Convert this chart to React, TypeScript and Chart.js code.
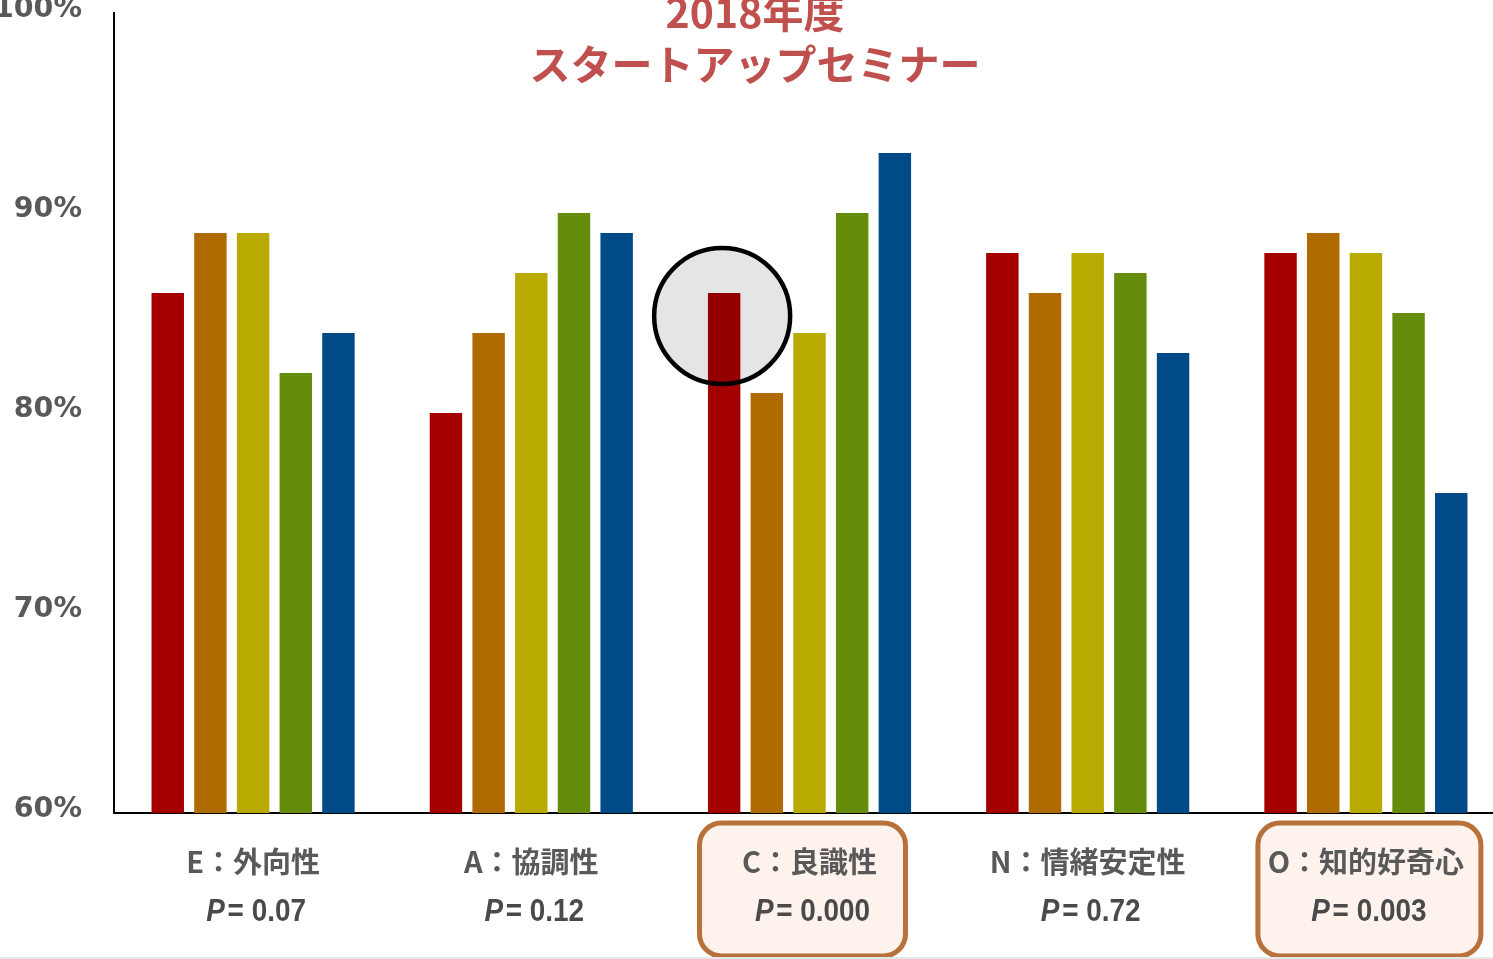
import React, { useEffect, useRef } from "react";
import { Chart, registerables } from "chart.js";

Chart.register(...registerables);

// ---- data ----
const categories = ["E：外向性", "A：協調性", "C：良識性", "N：情緒安定性", "O：知的好奇心"];
const pValues = ["0.07", "0.12", "0.000", "0.72", "0.003"];
const highlighted = [false, false, true, false, true];
const seriesNames = ["群1", "群2", "群3", "群4", "群5"];
const series1 = [86, 80, 86, 88, 88];
const series2 = [89, 84, 81, 86, 89];
const series3 = [89, 87, 84, 88, 88];
const series4 = [82, 90, 90, 87, 85];
const series5 = [84, 89, 93, 83, 76];
const yMin = 60;
const yMax = 100;
const yStep = 10;
const titleLines = ["2018年度", "スタートアップセミナー"];
const circledCategory = 2;
const circleValue = 84.85;

// ---- styles ----
const seriesColors = ["#A50000", "#AF6B00", "#B8AA00", "#658C0B", "#004A87"];
const GRAY = "#595959";
const CJK = "'Noto Sans CJK JP', 'Noto Sans', sans-serif";
const SANS = "'Liberation Sans', Arial, sans-serif";

const boxOffsets: Record<number, [number, number]> = {
  2: [-110, 96],
  4: [-108, 115],
};

const overlayPlugin = {
  id: "overlay",
  afterDatasetsDraw(chart: any) {
    const ctx = chart.ctx as CanvasRenderingContext2D;
    const bar = chart.getDatasetMeta(0).data[circledCategory];
    const cy = chart.scales.y.getPixelForValue(circleValue);
    ctx.save();
    ctx.beginPath();
    ctx.arc(bar.x - 2, cy, 68, 0, Math.PI * 2);
    ctx.fillStyle = "rgba(0,0,0,0.1)";
    ctx.fill();
    ctx.lineWidth = 4.5;
    ctx.strokeStyle = "#000";
    ctx.stroke();
    ctx.restore();
  },
  afterDraw(chart: any) {
    const ctx = chart.ctx as CanvasRenderingContext2D;
    const xs = chart.scales.x;
    ctx.save();
    // title
    ctx.fillStyle = "#C0504D";
    ctx.font = `bold 41px ${CJK}`;
    ctx.textAlign = "center";
    ctx.textBaseline = "middle";
    ctx.fillText(titleLines[0], 755, 12);
    ctx.fillText(titleLines[1], 755, 64);

    // category labels
    categories.forEach((cat, i) => {
      const cx = xs.getPixelForValue(i);
      if (highlighted[i]) {
        const [l, r] = boxOffsets[i];
        ctx.beginPath();
        ctx.roundRect(cx + l, 823, r - l, 133, 22);
        ctx.fillStyle = "#FDF3EC";
        ctx.fill();
        ctx.lineWidth = 5;
        ctx.strokeStyle = "#B8713A";
        ctx.stroke();
      }
      ctx.textAlign = "center";
      ctx.textBaseline = "middle";
      ctx.fillStyle = GRAY;
      ctx.font = `bold 29px ${CJK}`;
      ctx.fillText(cat, cx, 862);

      // P line (horizontally condensed)
      const sx = 0.9;
      const pFont = `italic bold 31px ${SANS}`;
      const rFont = `bold 31px ${SANS}`;
      ctx.font = pFont;
      const wP = ctx.measureText("P").width;
      const rest = "= " + pValues[i];
      ctx.font = rFont;
      const wR = ctx.measureText(rest).width;
      const gap = 3;
      const total = (wP + gap + wR) * sx;
      const start = cx + 3 - total / 2;
      ctx.save();
      ctx.translate(start, 912);
      ctx.scale(sx, 1);
      ctx.textAlign = "left";
      ctx.fillStyle = "#4A4A4A";
      ctx.font = pFont;
      ctx.fillText("P", 0, 0);
      ctx.font = rFont;
      ctx.fillText(rest, wP + gap, 0);
      ctx.restore();
    });

    // faint slide edge
    ctx.fillStyle = "#E3E9E7";
    ctx.fillRect(0, 957, chart.width, 2);
    ctx.restore();
  },
};

export default function App() {
  const ref = useRef<HTMLCanvasElement | null>(null);
  useEffect(() => {
    if (!ref.current) return;
    const datasets = [series1, series2, series3, series4, series5].map((d, i) => ({
      label: seriesNames[i],
      data: d,
      backgroundColor: seriesColors[i],
      borderWidth: 0,
      categoryPercentage: 0.767,
      barPercentage: 0.76,
    }));
    const chart = new Chart(ref.current, {
      type: "bar",
      data: { labels: categories, datasets },
      options: {
        animation: false,
        responsive: false,
        maintainAspectRatio: false,
        layout: { autoPadding: false, padding: { top: 13, bottom: 146, left: 0, right: 0 } },
        plugins: { legend: { display: false }, tooltip: { enabled: false }, title: { display: false } },
        scales: {
          x: {
            grid: { display: false, drawTicks: false },
            ticks: { display: false },
            border: { display: true, color: "#000", width: 2 },
            afterFit: (s: any) => {
              s.height = 0;
              s.paddingLeft = 0;
              s.paddingRight = 0;
            },
          },
          y: {
            min: yMin,
            max: yMax,
            grid: { display: false, drawTicks: false },
            border: { display: true, color: "#000", width: 2 },
            afterFit: (s: any) => {
              s.width = 114;
              s.paddingTop = 0;
              s.paddingBottom = 0;
            },
            ticks: {
              stepSize: yStep,
              padding: 32,
              labelOffset: -3,
              color: GRAY,
              font: { family: "'DejaVu Sans', sans-serif", size: 28.5, weight: "bold" },
              callback: (v: any) => `${v}%`,
            },
          },
        },
      },
      plugins: [overlayPlugin],
    } as any);
    return () => chart.destroy();
  }, []);
  return (
    <div
      style={{
        position: "fixed",
        left: 0,
        top: 0,
        width: 1493,
        height: 959,
        overflow: "hidden",
        background: "#fff",
      }}
    >
      <canvas ref={ref} width={1505} height={959} style={{ display: "block" }} />
    </div>
  );
}
